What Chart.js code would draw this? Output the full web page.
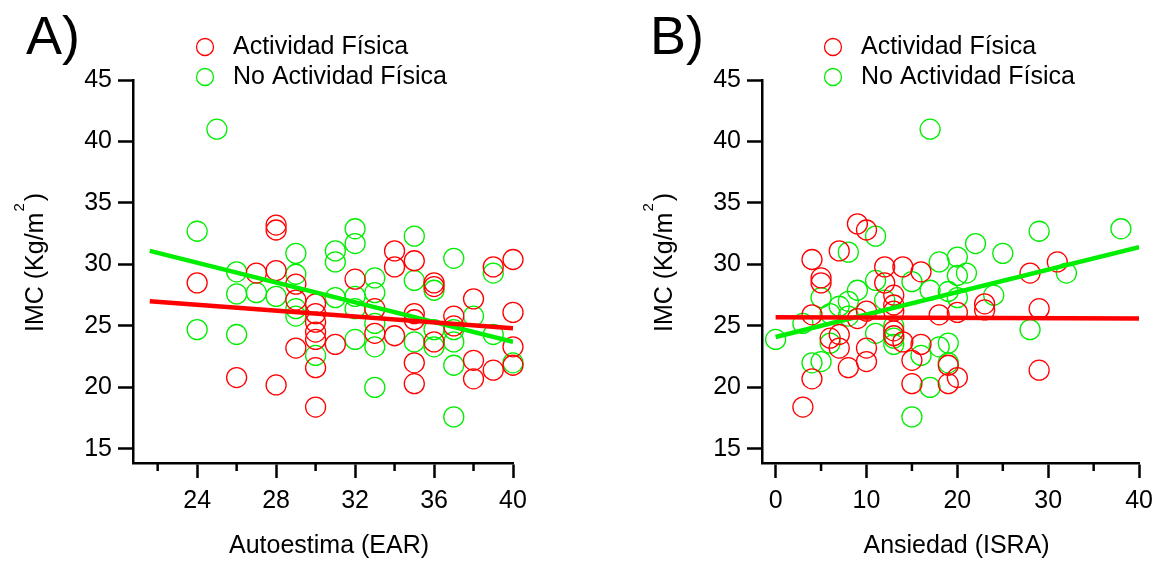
<!DOCTYPE html>
<html>
<head>
<meta charset="utf-8">
<script src="https://cdn.jsdelivr.net/npm/chart.js@4.4.1/dist/chart.umd.min.js"></script>
<style>
  body { margin: 0; background: #fff; }
  .p { position: absolute; top: 0; }
</style>
</head>
<body>
<canvas id="chartA" class="p" width="580" height="561" style="left:0"></canvas>
<canvas id="chartB" class="p" width="581" height="561" style="left:580px"></canvas>
<script>
// series names
var seriesLabels = ['Actividad Física', 'No Actividad Física'];

// Panel A: Autoestima (EAR) vs IMC
var autoestimaAF = [28, 28, 34, 34, 35, 40, 39, 27, 28, 24, 32, 36, 38, 29, 29, 30, 30, 30, 30, 30, 30, 30, 31, 33, 33, 34, 35, 35, 35, 35, 36, 36, 37, 37, 38, 38, 39, 40, 40, 40, 26, 28, 29];
var imcAF_A      = [33.2, 32.8, 31.1, 29.8, 30.3, 30.4, 29.8, 29.3, 29.5, 28.5, 28.8, 28.5, 27.2, 28.4, 27.1, 26.8, 26.0, 25.3, 24.5, 23.9, 21.6, 18.4, 23.5, 26.4, 24.4, 24.2, 26.0, 25.5, 22.0, 20.3, 23.7, 28.2, 25.8, 25.0, 22.2, 20.7, 21.4, 26.1, 23.3, 21.8, 20.8, 20.2, 23.2];
var autoestimaNoAF = [25, 24, 32, 32, 31, 31, 35, 37, 39, 29, 29, 26, 33, 35, 36, 26, 27, 28, 29, 29, 30, 31, 32, 32, 32, 33, 33, 33, 33, 35, 36, 36, 37, 37, 37, 37, 38, 39, 40, 24, 26];
var imcNoAF_A      = [41.0, 32.7, 32.9, 31.7, 31.1, 30.2, 32.3, 30.5, 29.3, 30.9, 29.2, 29.4, 28.9, 28.7, 27.9, 27.6, 27.7, 27.4, 26.4, 25.8, 22.6, 27.3, 27.4, 26.4, 23.9, 25.2, 23.3, 27.7, 20.0, 23.7, 24.7, 23.3, 24.7, 23.7, 21.8, 17.6, 25.8, 24.3, 22.0, 24.7, 24.3];
var fitA_AF_x = [21.6, 40], fitA_AF_y = [27.0, 24.8];
var fitA_NoAF_x = [21.6, 40], fitA_NoAF_y = [31.1, 23.7];

// Panel B: Ansiedad (ISRA) vs IMC
var ansiedadAF = [9, 10, 7, 4, 31, 28, 5, 5, 12, 14, 16, 12, 13, 13, 13, 10, 9, 4, 18, 20, 23, 23, 29, 29, 6, 7, 7, 8, 4, 3, 10, 10, 13, 13, 14, 15, 16, 15, 19, 20, 19];
var imcAF_B    = [33.3, 32.8, 31.1, 30.4, 30.2, 29.3, 28.9, 28.5, 29.8, 29.8, 29.4, 28.5, 27.5, 26.7, 26.2, 26.2, 25.6, 25.9, 25.9, 26.1, 26.8, 26.3, 26.4, 21.4, 24.0, 23.2, 24.3, 21.6, 20.7, 18.4, 23.2, 22.1, 24.6, 24.2, 23.7, 22.2, 23.5, 20.3, 21.8, 20.8, 20.3];
var ansiedadNoAF = [17, 38, 29, 11, 8, 22, 25, 20, 18, 32, 20, 21, 15, 11, 9, 17, 19, 24, 5, 12, 8, 7, 6, 3, 8, 20, 28, 0, 6, 4, 5, 11, 13, 13, 13, 16, 17, 15, 18, 19, 19];
var imcNoAF_B    = [41.0, 32.9, 32.7, 32.3, 31.0, 31.7, 30.9, 30.6, 30.2, 29.3, 29.1, 29.3, 28.6, 28.7, 27.9, 27.9, 27.8, 27.5, 27.3, 27.1, 27.0, 26.6, 26.0, 25.2, 25.8, 27.3, 24.7, 23.9, 23.6, 22.0, 22.1, 24.4, 25.0, 24.0, 23.5, 22.6, 20.0, 17.6, 23.3, 23.6, 22.0];
var fitB_AF_x = [0, 40], fitB_AF_y = [25.7, 25.6];
var fitB_NoAF_x = [0, 40], fitB_NoAF_y = [24.1, 31.4];

// ticks
var yTicks = [15, 20, 25, 30, 35, 40, 45];
var xTicksA = [24, 28, 32, 36, 40], xMinorA = [22, 26, 30, 34, 38];
var xTicksB = [0, 10, 20, 30, 40], xMinorB = [5, 15, 25, 35];

var RED = '#ff0000', GREEN = '#00ee00';
var FONT = "'Liberation Sans', Arial, sans-serif";

function pts(xs, ys) {
  return xs.map(function (x, i) { return { x: x, y: ys[i] }; });
}

var panelText = {
  id: 'panelText',
  afterDraw: function (chart) {
    var o = chart.options.plugins.panelText;
    var ctx = chart.ctx, ca = chart.chartArea, xs = chart.scales.x;
    ctx.save();
    // minor ticks
    ctx.strokeStyle = '#000';
    ctx.lineWidth = 2.5;
    o.minor.forEach(function (v) {
      var px = xs.getPixelForValue(v);
      ctx.beginPath();
      ctx.moveTo(px, ca.bottom);
      ctx.lineTo(px, ca.bottom + 8);
      ctx.stroke();
    });
    ctx.fillStyle = '#000';
    // panel letter
    ctx.font = '54px ' + FONT;
    ctx.textBaseline = 'alphabetic';
    ctx.textAlign = 'left';
    ctx.fillText(o.letter, o.letterX, 54);
    // legend
    ctx.font = '25px ' + FONT;
    ctx.textBaseline = 'middle';
    [0, 1].forEach(function (i) {
      var ds = chart.data.datasets[i + 2];
      var y = 47 + i * 30;
      ctx.beginPath();
      ctx.lineWidth = 1.3;
      ctx.strokeStyle = ds.borderColor;
      ctx.arc(o.legendX, y, 8.5, 0, Math.PI * 2);
      ctx.stroke();
      ctx.fillText(ds.label, o.legendX + 28, y);
    });
    // x title
    ctx.textAlign = 'center';
    ctx.textBaseline = 'alphabetic';
    ctx.fillText(o.xTitle, (ca.left + ca.right) / 2 + 6, 553);
    // y title with superscript
    ctx.translate(ca.left - 90, 332);
    ctx.rotate(-Math.PI / 2);
    ctx.textAlign = 'left';
    var main = 'IMC (Kg/m';
    ctx.fillText(main, 0, 0);
    var w = ctx.measureText(main).width;
    ctx.font = '15px ' + FONT;
    ctx.fillText('2', w + 1, -19);
    var w2 = ctx.measureText('2').width;
    ctx.font = '25px ' + FONT;
    ctx.fillText(')', w + w2 + 3, 0);
    ctx.restore();
  }
};

function makeChart(id, cfg) {
  var scatterDs = function (label, data, color) {
    return {
      type: 'scatter', label: label, data: data,
      borderColor: color, backgroundColor: 'rgba(0,0,0,0)',
      pointRadius: 10, pointHoverRadius: 10, pointBorderWidth: 1.3,
      clip: false, order: 2
    };
  };
  var lineDs = function (data, color) {
    return {
      type: 'line', label: '', data: data, borderColor: color,
      borderWidth: 4.5, pointRadius: 0, fill: false, order: 1
    };
  };
  return new Chart(document.getElementById(id), {
    type: 'scatter',
    data: {
      datasets: [
        lineDs(cfg.fitAF, RED),
        lineDs(cfg.fitNoAF, GREEN),
        scatterDs(seriesLabels[0], cfg.af, RED),
        scatterDs(seriesLabels[1], cfg.noaf, GREEN)
      ]
    },
    options: {
      responsive: false,
      animation: false,
      layout: { padding: { top: 80, right: cfg.padRight, left: 0, bottom: 0 } },
      plugins: {
        legend: { display: false },
        tooltip: { enabled: false },
        panelText: { letter: cfg.letter, letterX: cfg.letterX, legendX: cfg.legendX, xTitle: cfg.xTitle, minor: cfg.minor }
      },
      scales: {
        x: {
          type: 'linear', min: cfg.xMin, max: cfg.xMax,
          afterFit: function (s) { s.height = 98; },
          afterBuildTicks: function (s) { s.ticks = cfg.xTicks.map(function (v) { return { value: v }; }); },
          border: { display: true, color: '#000', width: 2.5 },
          grid: { drawOnChartArea: false, drawTicks: true, tickLength: 15, tickColor: '#000', tickWidth: 2.5 },
          ticks: { color: '#000', font: { family: FONT, size: 25 }, padding: 8, maxRotation: 0 }
        },
        y: {
          type: 'linear', min: 13.85, max: 45,
          afterFit: function (s) { s.width = cfg.yWidth; },
          afterBuildTicks: function (s) { s.ticks = yTicks.map(function (v) { return { value: v }; }); },
          border: { display: true, color: '#000', width: 2.5 },
          grid: { drawOnChartArea: false, drawTicks: true, tickLength: 15, tickColor: '#000', tickWidth: 2.5 },
          ticks: { color: '#000', font: { family: FONT, size: 25 }, padding: 6 }
        }
      }
    },
    plugins: [panelText]
  });
}

makeChart('chartA', {
  letter: 'A)', letterX: 26, legendX: 205, xTitle: 'Autoestima (EAR)',
  xMin: 20.75, xMax: 40, xTicks: xTicksA, minor: xMinorA,
  yWidth: 133, padRight: 67,
  af: pts(autoestimaAF, imcAF_A), noaf: pts(autoestimaNoAF, imcNoAF_A),
  fitAF: pts(fitA_AF_x, fitA_AF_y), fitNoAF: pts(fitA_NoAF_x, fitA_NoAF_y)
});

makeChart('chartB', {
  letter: 'B)', letterX: 70, legendX: 253, xTitle: 'Ansiedad (ISRA)',
  xMin: -1.5, xMax: 40, xTicks: xTicksB, minor: xMinorB,
  yWidth: 182, padRight: 20,
  af: pts(ansiedadAF, imcAF_B), noaf: pts(ansiedadNoAF, imcNoAF_B),
  fitAF: pts(fitB_AF_x, fitB_AF_y), fitNoAF: pts(fitB_NoAF_x, fitB_NoAF_y)
});
</script>
</body>
</html>
